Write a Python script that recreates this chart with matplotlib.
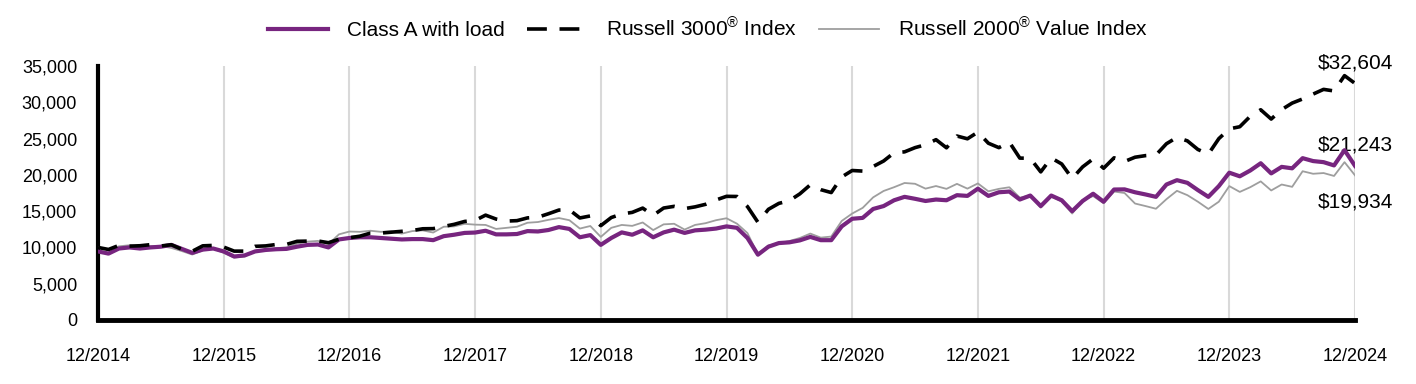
import numpy as np
import matplotlib
matplotlib.use("Agg")
import matplotlib.pyplot as plt

plt.rcParams['font.family'] = ['Liberation Sans', 'DejaVu Sans']
plt.rcParams['mathtext.fontset'] = 'custom'
plt.rcParams['mathtext.rm'] = 'Liberation Sans'
plt.rcParams['mathtext.it'] = 'Liberation Sans'
plt.rcParams['mathtext.bf'] = 'Liberation Sans'

# Growth of $10,000, monthly from 12/2014 to 12/2024 (values in $)
class_a = [
    9450, 9150, 9850, 10000, 9850, 10000, 10100, 10350, 9800, 9250, 9700, 9850, 9450,
    8750, 8900, 9450, 9650, 9750, 9800, 10100, 10350, 10400, 10000, 11100, 11300,
    11400, 11400, 11300, 11200, 11100, 11150, 11150, 11000, 11550, 11750, 12000, 12050,
    12300, 11800, 11800, 11850, 12250, 12200, 12400, 12800, 12550, 11400, 11700, 10350,
    11300, 12070, 11750, 12350, 11400, 12070, 12450, 12000, 12350, 12450, 12600, 12900,
    12700, 11300, 9000, 10100, 10600, 10700, 10970, 11450, 11000, 11000, 12900, 13950,
    14070, 15300, 15700, 16500, 16970, 16700, 16400, 16600, 16500, 17200, 17100, 18100,
    17100, 17600, 17700, 16600, 17150, 15700, 17150, 16500, 15000, 16400, 17400, 16300,
    17980, 18000, 17600, 17300, 16970, 18670, 19270, 18900, 17900, 16970, 18450, 20300,
    19800, 20600, 21600, 20200, 21100, 20900, 22300, 21900, 21750, 21300, 23400, 21243,
]
russell_3000 = [
    10000, 9720, 10280, 10180, 10230, 10380, 10200, 10370, 9750, 9470, 10220, 10280, 10050,
    9490, 9490, 10150, 10210, 10400, 10420, 10840, 10870, 10890, 10650, 11130, 11330,
    11550, 11970, 11980, 12100, 12220, 12330, 12570, 12590, 12890, 13180, 13580, 13720,
    14450, 13910, 13630, 13690, 14070, 14170, 14640, 15150, 15180, 14060, 14340, 13000,
    14120, 14610, 14830, 15420, 14420, 15430, 15660, 15350, 15590, 15940, 16540, 17040,
    17020, 15630, 13470, 15250, 16070, 16440, 17380, 18630, 17960, 17560, 19710, 20600,
    20520, 21150, 21910, 23050, 23170, 23750, 24150, 24850, 23730, 25350, 24970, 25890,
    24360, 23750, 24510, 22310, 22280, 20410, 22330, 21500, 19500, 21100, 22200, 20910,
    22350, 21840, 22430, 22650, 22740, 24290, 25160, 24680, 23500, 22860, 24990, 26340,
    26630, 28070, 28970, 27690, 28990, 29890, 30460, 31130, 31780, 31560, 33670, 32604,
]
russell_2000_value = [
    10000, 9680, 10150, 10300, 10100, 10180, 10200, 9930, 9500, 9020, 9600, 9850, 9250,
    8600, 8750, 9500, 9720, 9900, 10000, 10500, 10800, 10900, 10450, 11800, 12190,
    12150, 12300, 12150, 12200, 11900, 12250, 12350, 12050, 12850, 12900, 13250, 13140,
    13100, 12550, 12700, 12850, 13400, 13500, 13800, 14050, 13750, 12600, 12950, 11450,
    12700, 13100, 12970, 13440, 12390, 13180, 13260, 12460, 13100, 13340, 13750, 14020,
    13270, 11980, 9020, 10270, 10570, 10880, 11300, 11910, 11350, 11500, 13650, 14670,
    15450, 16900, 17780, 18300, 18880, 18770, 18100, 18460, 18070, 18760, 18100, 18820,
    17730, 18070, 18290, 16860, 17180, 15480, 16980, 16340, 14670, 16520, 17080, 16090,
    17700, 17500, 16050, 15700, 15330, 16650, 17800, 17200, 16300, 15300, 16300, 18450,
    17650, 18300, 19100, 17850, 18670, 18350, 20500, 20150, 20250, 19850, 21750, 19934,
]
tick_labels = ["12/2014", "12/2015", "12/2016", "12/2017", "12/2018", "12/2019",
               "12/2020", "12/2021", "12/2022", "12/2023", "12/2024"]
series_names = ["Class A with load", "Russell 3000$^{®}$ Index", "Russell 2000$^{®}$ Value Index"]
end_labels = ["$21,243", "$32,604", "$19,934"]

months = np.arange(len(class_a))

fig = plt.figure(figsize=(14.16, 3.84), dpi=100)
ax = fig.add_axes([98/1416, 1-320/384, (1355-98)/1416, (320-66)/384])

purple = "#77257F"
ax.plot(months, russell_2000_value, color="#9e9e9e", lw=1.3, label=series_names[2], zorder=3)
ax.plot(months, class_a, color=purple, lw=3.0, label=series_names[0], zorder=4)
ax.plot(months, russell_3000, color="black", lw=2.6, dashes=(5.5, 3.5), label=series_names[1], zorder=5)

ax.set_xlim(0, 120)
ax.set_ylim(0, 35000)
ax.set_xticks(np.arange(0, 121, 12))
ax.set_xticklabels(tick_labels)
ax.set_yticks(np.arange(0, 35001, 5000))
ax.set_yticklabels([f"{v:,}" for v in range(0, 35001, 5000)])
ax.tick_params(axis='both', length=0, labelsize=13)
ax.tick_params(axis='x', pad=20)
ax.tick_params(axis='y', pad=15)
ax.grid(axis='x', color="#d9d9d9", lw=1.5)
ax.set_axisbelow(True)
for s in ['top', 'right']:
    ax.spines[s].set_visible(False)
ax.spines['left'].set_linewidth(3)
ax.spines['bottom'].set_linewidth(3.5)

# end labels
ax.annotate(end_labels[1], xy=(120, russell_3000[-1]), xytext=(0, 15), textcoords='offset points',
            ha='center', va='center', fontsize=15)
ax.annotate(end_labels[0], xy=(120, class_a[-1]), xytext=(0, 15), textcoords='offset points',
            ha='center', va='center', fontsize=15)
ax.annotate(end_labels[2], xy=(120, russell_2000_value[-1]), xytext=(0, -19), textcoords='offset points',
            ha='center', va='center', fontsize=15)

handles, labels = ax.get_legend_handles_labels()
order = [1, 2, 0]
fig.legend([handles[i] for i in order], [labels[i] for i in order], loc='center',
           bbox_to_anchor=(0.5, 0.925), ncol=3, frameon=False, fontsize=15,
           handlelength=2.9, handletextpad=0.9, columnspacing=1.05)

fig.savefig("out.png", dpi=100)
